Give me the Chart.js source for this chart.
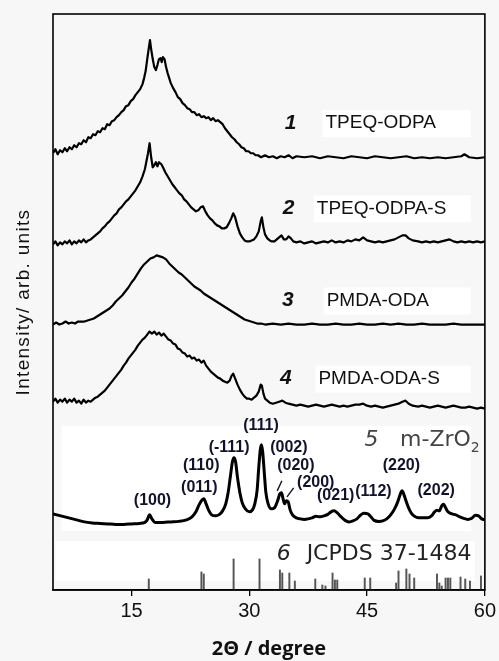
<!DOCTYPE html>
<html>
<head>
<meta charset="utf-8">
<script src="https://cdn.jsdelivr.net/npm/chart.js@4.4.1/dist/chart.umd.min.js"></script>
<style>
html,body{margin:0;padding:0;background:#f7f7f7;}
</style>
</head>
<body>
<canvas id="xrd" width="499" height="661"></canvas>
<script>
// [2theta (deg), intensity (arb., stacked; 0 = bottom of frame)]
const tpeqOdpa = [[5.0,436],[5.3,440],[5.6,435],[5.9,439],[6.2,437],[6.5,441],[6.8,438],[7.1,442],[7.4,440],[7.7,444],[8.0,442],[8.3,446],[8.6,445],[8.9,449],[9.2,447],[9.5,452],[9.8,451],[10.1,455],[10.4,454],[10.7,458],[11.0,457],[11.3,461],[11.6,460],[11.9,465],[12.2,464],[12.5,468],[12.8,469],[13.1,472],[13.4,474],[13.7,477],[14.0,479],[14.3,483],[14.6,484],[14.9,488],[15.2,490],[15.5,494],[15.8,497],[16.1,500],[16.4,505],[16.6,511],[16.8,518],[17.0,530],[17.2,541],[17.35,549],[17.5,540],[17.7,530],[17.9,522],[18.1,519],[18.3,524],[18.5,530],[18.7,531],[18.85,527],[19.0,532],[19.2,530],[19.4,522],[19.6,516],[19.8,511],[20.0,506],[20.3,501],[20.6,497],[20.9,492],[21.2,490],[21.5,486],[21.8,484],[22.1,481],[22.4,480],[22.7,477],[23.0,477],[23.3,474],[23.6,475],[23.9,472],[24.2,473],[24.5,471],[24.8,472],[25.1,469],[25.4,471],[25.7,468],[26.0,469],[26.3,467],[26.6,465],[26.9,461],[27.2,458],[27.5,455],[27.8,452],[28.1,450],[28.4,447],[28.7,445],[29.0,442],[29.3,441],[29.6,438],[29.9,438],[30.2,436],[30.5,436],[30.8,434],[31.1,434],[31.5,432],[32,434],[32.5,432],[33,433],[33.5,431],[34,433],[34.5,432],[35,434],[35.5,431],[36,433],[37,432],[38,433],[39,431],[40,433],[41,432],[42,431],[43,433],[44,432],[45,431],[46,433],[47,432],[48,431],[49,432],[50,433],[51,431],[52,432],[53,431],[54,432],[55,431],[56,432],[57,433],[57.4,435],[58,432],[59,431],[60,432]];
const tpeqOdpaS = [[5.0,345],[5.3,348],[5.6,344],[5.9,347],[6.2,345],[6.5,348],[6.8,346],[7.1,349],[7.4,345],[7.7,348],[8.0,346],[8.3,349],[8.6,347],[8.9,350],[9.2,347],[9.5,349],[9.8,350],[10.1,352],[10.4,354],[10.7,356],[11.0,358],[11.3,361],[11.6,363],[11.9,366],[12.2,368],[12.5,371],[12.8,374],[13.1,376],[13.4,380],[13.7,382],[14.0,385],[14.3,388],[14.6,390],[14.9,393],[15.2,396],[15.5,399],[15.8,403],[16.1,407],[16.4,413],[16.7,420],[16.9,428],[17.1,436],[17.3,446],[17.5,432],[17.7,422],[17.9,424],[18.1,427],[18.3,423],[18.5,427],[18.8,425],[19.0,422],[19.3,417],[19.6,413],[19.9,409],[20.2,405],[20.5,402],[20.8,399],[21.1,396],[21.4,394],[21.7,390],[22.0,388],[22.3,385],[22.6,382],[22.9,380],[23.2,378],[23.5,379],[23.8,382],[24.1,383],[24.4,378],[24.7,374],[25.0,371],[25.3,369],[25.6,366],[25.9,364],[26.2,363],[26.5,361],[26.8,361],[27.1,362],[27.4,366],[27.7,371],[27.95,376],[28.2,372],[28.5,363],[28.8,356],[29.1,352],[29.4,349],[29.7,348],[30.0,348],[30.3,349],[30.6,350],[30.9,353],[31.2,358],[31.45,368],[31.6,372],[31.8,362],[32.0,355],[32.3,351],[32.6,349],[32.9,348],[33.2,348],[33.5,350],[33.8,352],[34.1,354],[34.4,350],[34.7,350],[35.0,353],[35.3,351],[35.6,348],[36,347],[36.5,348],[37,346],[37.5,347],[38,348],[38.5,346],[39,347],[39.5,348],[40,347],[40.5,349],[41,347],[41.5,348],[42,347],[42.5,349],[43,348],[43.5,350],[44,349],[44.5,352],[45,349],[45.5,348],[46,347],[46.5,348],[47,347],[47.5,348],[48,349],[48.5,350],[49,352],[49.5,354],[49.9,354],[50.3,351],[50.8,349],[51.5,348],[52,347],[52.5,348],[53,347],[53.5,348],[54,347],[54.5,348],[55,349],[55.5,350],[56,348],[56.5,347],[57,348],[57.5,347],[58,348],[58.5,347],[59,348],[59.5,347],[60,348]];
const pmdaOda = [[5.0,265],[5.4,267],[5.8,265],[6.2,266],[6.6,268],[7.0,266],[7.4,267],[7.8,266],[8.2,268],[8.6,268],[9.0,268],[9.4,269],[9.8,270],[10.2,271],[10.6,273],[11.0,275],[11.4,277],[11.8,279],[12.2,281],[12.6,284],[13.0,288],[13.4,291],[13.8,294],[14.2,298],[14.6,302],[15.0,307],[15.4,311],[15.8,316],[16.2,321],[16.6,325],[17.0,328],[17.4,331],[17.8,332],[18.2,334],[18.6,333],[19.0,332],[19.4,330],[19.8,326],[20.2,323],[20.6,320],[21.0,317],[21.4,315],[21.8,312],[22.2,309],[22.6,306],[23.0,303],[23.4,301],[23.8,299],[24.2,296],[24.6,294],[25.0,292],[25.4,290],[25.8,288],[26.2,286],[26.6,284],[27.0,282],[27.4,280],[27.8,278],[28.2,276],[28.6,274],[29.0,272],[29.4,270],[29.8,269],[30.2,268],[30.6,267],[31.0,266],[31.5,266],[32,265],[33,266],[34,265],[35,266],[36,265],[37,265],[38,266],[39,265],[40,265],[41,266],[42,265],[43,265],[44,266],[45,265],[46,265],[47,266],[48,265],[49,266],[50,265],[51,265],[52,266],[53,265],[54,265],[55,265],[56,266],[57,265],[58,265],[59,265],[60,265]];
const pmdaOdaS = [[5.0,188],[5.3,191],[5.6,187],[5.9,190],[6.2,188],[6.5,191],[6.8,187],[7.1,190],[7.4,188],[7.7,191],[8.0,187],[8.3,189],[8.6,186],[8.9,190],[9.2,187],[9.5,189],[9.8,188],[10.1,190],[10.4,192],[10.7,193],[11.0,195],[11.3,197],[11.6,199],[11.9,202],[12.2,205],[12.5,208],[12.8,211],[13.1,214],[13.4,217],[13.7,220],[14.0,224],[14.3,227],[14.6,231],[14.9,234],[15.2,237],[15.5,240],[15.8,244],[16.1,247],[16.4,250],[16.7,252],[17.0,255],[17.3,258],[17.6,256],[17.9,258],[18.2,255],[18.5,257],[18.8,254],[19.1,256],[19.4,253],[19.7,250],[20.0,249],[20.3,246],[20.6,245],[20.9,241],[21.2,240],[21.5,237],[21.8,236],[22.1,233],[22.4,234],[22.7,231],[23.0,232],[23.3,229],[23.6,230],[23.9,227],[24.2,229],[24.5,224],[24.8,221],[25.1,218],[25.4,216],[25.7,214],[26.0,212],[26.3,211],[26.6,209],[26.9,208],[27.2,207],[27.5,209],[27.75,214],[27.95,216],[28.2,211],[28.5,205],[28.8,200],[29.1,196],[29.4,193],[29.7,191],[30.0,191],[30.3,190],[30.6,192],[30.9,194],[31.2,198],[31.45,205],[31.6,204],[31.8,196],[32.0,191],[32.3,189],[32.6,187],[33.0,186],[33.4,187],[33.8,188],[34.2,189],[34.6,187],[35.0,186],[35.5,185],[36,184],[36.5,185],[37,184],[37.5,183],[38,184],[38.5,185],[39,184],[39.5,183],[40,184],[40.5,185],[41,184],[41.5,183],[42,184],[42.5,183],[43,184],[43.5,185],[44,185],[44.5,186],[45,184],[45.5,183],[46,184],[46.5,183],[47,182],[47.5,183],[48,184],[48.5,185],[49,186],[49.5,188],[49.9,189],[50.3,186],[50.8,184],[51.5,183],[52,184],[52.5,183],[53,182],[53.5,183],[54,184],[54.5,183],[55,182],[55.5,183],[56,184],[56.5,183],[57,182],[57.5,182],[58,183],[58.5,182],[59,181],[59.5,182],[60,181]];
const mZrO2 = [[5.0,76],[6,74],[7,72],[8,70],[9,68],[10,67],[11,66.5],[12,66],[13,65.5],[14,65.5],[15,66],[16,66.5],[16.7,67.5],[17.0,70],[17.3,75],[17.6,71],[18.0,67.5],[19,67.5],[20,68],[21,68.5],[22,70],[22.7,73],[23.2,78],[23.6,85],[24.0,90],[24.2,91],[24.5,86],[24.8,80],[25.2,75],[25.7,74],[26.2,75.5],[26.6,79],[27.0,86],[27.3,97],[27.6,114],[27.85,128],[28.05,132],[28.25,128],[28.5,112],[28.8,97],[29.1,87],[29.5,81],[30.0,78],[30.4,80],[30.7,86],[31.0,100],[31.2,122],[31.4,140],[31.55,145],[31.7,138],[31.9,118],[32.1,98],[32.4,86],[32.8,81],[33.2,82],[33.6,89],[33.9,96],[34.1,97],[34.3,91],[34.5,86],[34.7,89],[34.95,88],[35.2,80],[35.5,75],[36.0,72],[36.5,71],[37.0,70.5],[37.5,71],[38.0,72],[38.5,73.5],[39.0,73],[39.5,74],[40.0,75.5],[40.4,78],[40.8,79],[41.2,77],[41.7,73],[42.2,69.5],[42.7,68],[43.2,69],[43.7,71],[44.2,75],[44.6,76.5],[45.1,76],[45.5,73],[45.9,69.5],[46.5,68.5],[47.0,69],[47.5,71],[48.0,75],[48.5,81],[48.9,88],[49.2,95],[49.45,99],[49.7,95],[50.0,88],[50.4,80],[50.8,75],[51.3,72.5],[52,72],[52.7,72],[53.2,74],[53.6,78],[53.9,79.5],[54.2,79],[54.5,84],[54.75,85.5],[55.0,82],[55.3,78],[55.8,76],[56.3,75],[56.8,73],[57.3,71.5],[57.8,70.5],[58.3,71.5],[58.8,74.5],[59.2,74],[59.6,71],[60,70]];

// JCPDS 37-1484 reference lines
const jcpdsPos    = [17.2,23.9,24.2,28.0,31.3,33.9,34.2,35.1,35.8,38.4,39.3,39.7,40.6,40.9,41.2,44.7,45.4,48.7,49.0,50.0,50.4,51.0,53.9,54.2,54.5,55.0,55.3,55.6,56.9,57.5,58.1,59.5];
const jcpdsHeight = [11,18,16,31,31,20,17,17,9,11,5,4,17,10,10,12,12,7,19,21,16,12,16,7,4,12,12,12,13,11,9,14];

const hklLabels = ['(100)','(011)','(110)','(-111)','(111)','(002)','(020)','(200)','(021)','(112)','(220)','(202)'];
const hklPos = [[17.67,89],[23.63,102],[23.88,124],[27.43,142],[31.49,164],[35.04,142],[35.93,124],[38.46,107],[41.0,94],[45.8,98],[49.36,124],[53.8,99]];

const sampleNums  = ['1','2','3','4','5','6'];
const sampleNames = ['TPEQ-ODPA','TPEQ-ODPA-S','PMDA-ODA','PMDA-ODA-S','m-ZrO','JCPDS 37-1484'];
const xTicks = [15, 30, 45, 60];

// where the sample captions sit (deg of number, deg of name, intensity)
const captionAt = [[35.25,39.7,466],[35.0,38.6,381],[34.9,39.85,289],[34.65,38.8,211],[45.55,49.2,149],[34.4,37.3,36]];

const toXY = arr => arr.map(([x,y]) => ({x, y}));

const deco = {
  id: 'deco',
  beforeDraw(chart) {
    const c = chart.ctx;
    c.save();
    c.fillStyle = '#f7f7f7';
    c.fillRect(0, 0, chart.width, chart.height);
    c.restore();
  },
  beforeDatasetsDraw(chart) {
    const c = chart.ctx, xs = chart.scales.x, ys = chart.scales.y;
    c.save();
    c.fillStyle = '#ffffff';
    // panels behind m-ZrO2 and the JCPDS sticks
    const px = xs.getPixelForValue(6.1), pr = xs.getPixelForValue(58.2);
    c.fillRect(px, ys.getPixelForValue(164), pr - px, ys.getPixelForValue(59) - ys.getPixelForValue(164));
    c.fillRect(xs.getPixelForValue(5.3), ys.getPixelForValue(49), xs.getPixelForValue(58.7) - xs.getPixelForValue(5.3), ys.getPixelForValue(9) - ys.getPixelForValue(49));
    // boxes behind the first four captions
    for (let i = 0; i < 4; i++) {
      const x0 = xs.getPixelForValue(captionAt[i][1]) - 3;
      const yc = ys.getPixelForValue(captionAt[i][2]);
      c.fillRect(x0, yc - 13, pr - x0, 27);
    }
    c.restore();
  },
  afterDatasetsDraw(chart) {
    const c = chart.ctx, a = chart.chartArea, xs = chart.scales.x, ys = chart.scales.y;
    c.save();
    // frame
    c.strokeStyle = '#000';
    c.lineWidth = 1.6;
    c.strokeRect(a.left, a.top, a.right - a.left, a.bottom - a.top);

    // y title
    c.save();
    c.translate(a.left - 29, (a.top + a.bottom) / 2);
    c.rotate(-Math.PI / 2);
    c.font = '19px "Liberation Sans", Arial, sans-serif';
    c.letterSpacing = '1.3px';
    c.fillStyle = '#111';
    c.textAlign = 'center';
    c.textBaseline = 'middle';
    c.fillText('Intensity/ arb. units', 0, 0);
    c.restore();

    // captions
    c.textBaseline = 'middle';
    c.textAlign = 'center';
    sampleNums.forEach((n, i) => {
      const [dn, dl, v] = captionAt[i];
      const y = ys.getPixelForValue(v);
      if (i < 4) {
        c.fillStyle = '#111';
        c.font = 'italic bold 21px "Liberation Sans", Arial, sans-serif';
        c.fillText(n, xs.getPixelForValue(dn), y);
        c.textAlign = 'left';
        c.font = '19px "Liberation Sans", Arial, sans-serif';
        c.fillText(sampleNames[i], xs.getPixelForValue(dl), y);
        c.textAlign = 'center';
      } else {
        c.fillStyle = i === 4 ? '#444' : '#222';
        c.font = 'italic 22px "DejaVu Sans", sans-serif';
        c.fillText(n, xs.getPixelForValue(dn), y);
        c.textAlign = 'left';
        c.font = '22px "DejaVu Sans", sans-serif';
        const lx = xs.getPixelForValue(dl);
        c.fillText(sampleNames[i], lx, y);
        if (i === 4) {
          const w = c.measureText(sampleNames[i]).width;
          c.font = '14px "DejaVu Sans", sans-serif';
          c.fillText('2', lx + w, y + 8);
        }
        c.textAlign = 'center';
      }
    });

    // hkl labels
    c.fillStyle = '#12122a';
    c.font = 'bold 16px "Liberation Sans", Arial, sans-serif';
    hklLabels.forEach((t, i) => {
      c.fillText(t, xs.getPixelForValue(hklPos[i][0]), ys.getPixelForValue(hklPos[i][1]));
    });
    // leader lines from (020) and (200)
    c.strokeStyle = '#12122a';
    c.lineWidth = 1.4;
    [[[34.15,109],[33.55,99]], [[35.65,102],[34.8,93]]].forEach(([p, q]) => {
      c.beginPath();
      c.moveTo(xs.getPixelForValue(p[0]), ys.getPixelForValue(p[1]));
      c.lineTo(xs.getPixelForValue(q[0]), ys.getPixelForValue(q[1]));
      c.stroke();
    });
    c.restore();
  }
};

const lineDs = (data, w) => ({
  type: 'line', data: toXY(data), borderColor: '#000', borderWidth: w,
  pointRadius: 0, tension: 0, borderJoinStyle: 'round', fill: false
});

new Chart(document.getElementById('xrd'), {
  type: 'line',
  data: {
    datasets: [
      lineDs(tpeqOdpa, 2.2),
      lineDs(tpeqOdpaS, 2.2),
      lineDs(pmdaOda, 2.2),
      lineDs(pmdaOdaS, 2.2),
      Object.assign(lineDs(mZrO2, 3), {cubicInterpolationMode: 'monotone'}),
      {
        type: 'bar',
        data: jcpdsPos.map((x, i) => ({x, y: jcpdsHeight[i]})),
        backgroundColor: '#555',
        barThickness: 1.3,
        borderWidth: 0
      }
    ]
  },
  options: {
    responsive: false,
    animation: false,
    devicePixelRatio: 1,
    layout: {padding: {left: 53, right: 12, top: 14, bottom: 0}},
    plugins: {legend: {display: false}, tooltip: {enabled: false}},
    scales: {
      x: {
        type: 'linear', min: 5, max: 60, offset: false,
        afterBuildTicks: s => { s.ticks = xTicks.map(v => ({value: v})); },
        grid: {display: true, offset: false, drawOnChartArea: false, drawTicks: true, tickLength: 6, color: '#000', lineWidth: 1.3},
        border: {display: true, color: '#000', width: 1.6},
        ticks: {color: '#111', padding: 3, font: {family: '"Liberation Sans", Arial, sans-serif', size: 20}, maxRotation: 0},
        title: {display: true, text: '2\u0398 / degree', color: '#111', padding: {top: 11, bottom: 0},
          font: {family: '"Open Sans", sans-serif', size: 20, weight: 'bold'}}
      },
      y: {type: 'linear', min: 0, max: 575, display: false}
    }
  },
  plugins: [deco]
});
</script>
</body>
</html>
